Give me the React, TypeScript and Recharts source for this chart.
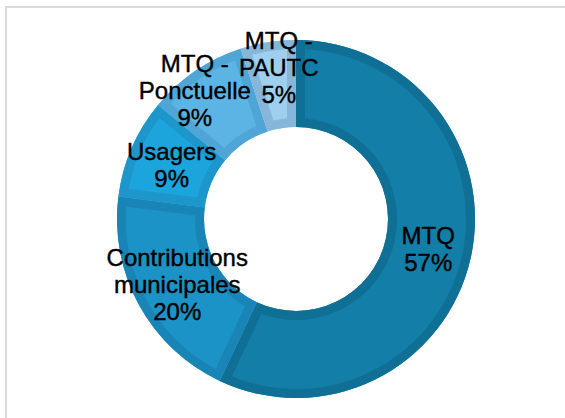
import React from "react";
import { PieChart, Pie, Cell, Sector } from "recharts";

const categories = ["MTQ", "Contributions municipales", "Usagers", "MTQ - Ponctuelle", "MTQ - PAUTC"];
const shares = [57, 20, 9, 9, 5];

const fillColors = ["#137ea7", "#1c93c7", "#1ba5dc", "#5cb4e4", "#9fcfef"];
const bandColors = ["#0f6f94", "#1985b7", "#1c96cb", "#4fa5d6", "#86b7da"];

const labelNudge: Record<string, [number, number]> = {
  "MTQ - Ponctuelle": [-25, -16],
  "MTQ - PAUTC": [4, -18],
};

const data = categories.map((name, i) => ({ name, value: shares[i] }));

const RAD = Math.PI / 180;
const FONT = "'Liberation Sans', Arial, sans-serif";
const LINE_H = 27;

function wrap(name: string): string[] {
  if (name.includes(" - ")) {
    const [a, b] = name.split(" - ");
    return [a + " -", b];
  }
  return name.split(" ");
}

const BevelSector = (props: any) => {
  const { cx, cy, innerRadius, outerRadius, startAngle, endAngle, fill } = props;
  const name = props.name ?? props.payload?.name ?? "x";
  const idx = categories.indexOf(name);
  const id = "clip-" + String(name).replace(/[^a-zA-Z0-9]/g, "");
  const geom = { cx, cy, innerRadius, outerRadius, startAngle, endAngle };
  return (
    <g>
      <defs>
        <clipPath id={id}>
          <Sector {...geom} />
        </clipPath>
      </defs>
      <Sector {...geom} fill={fill} stroke="none" />
      <Sector
        {...geom}
        fill="none"
        stroke={bandColors[idx] ?? fill}
        strokeWidth={18}
        clipPath={`url(#${id})`}
      />
    </g>
  );
};

const renderLabel = (props: any) => {
  const { cx, cy, midAngle, innerRadius, outerRadius, name, percent } = props;
  const r = (innerRadius + outerRadius) / 2;
  const nudge = labelNudge[name] ?? [0, 0];
  const x = cx + r * Math.cos(-midAngle * RAD) + nudge[0];
  const yc = cy + r * Math.sin(-midAngle * RAD) + nudge[1];
  const lines = [...wrap(name), `${Math.round(percent * 100)}%`];
  const n = lines.length;
  const firstBase = yc - ((n - 1) * LINE_H + 17) / 2 + 17;
  return (
    <text
      x={x}
      y={firstBase}
      textAnchor="middle"
      fill="#000"
      stroke="#000"
      strokeWidth={0.4}
      fontFamily={FONT}
      fontSize={24}
    >
      {lines.map((l, i) => (
        <tspan key={i} x={x} y={firstBase + i * LINE_H}>
          {l}
        </tspan>
      ))}
    </text>
  );
};

export default function App() {
  return (
    <div
      style={{
        position: "absolute",
        left: 0,
        top: 0,
        width: 565,
        height: 418,
        overflow: "hidden",
        background: "#fff",
      }}
    >
      <div
        style={{
          position: "absolute",
          left: 5,
          top: 6,
          width: 700,
          height: 600,
          border: "2px solid #d9d9d9",
          boxSizing: "border-box",
        }}
      />
      <div style={{ position: "absolute", left: 0, top: 0 }}>
        <PieChart width={565} height={418}>
          <Pie
            data={data}
            dataKey="value"
            nameKey="name"
            cx={291}
            cy={214}
            innerRadius={92}
            outerRadius={179}
            startAngle={90}
            endAngle={-270}
            stroke="none"
            isAnimationActive={false}
            shape={BevelSector}
            label={renderLabel}
            labelLine={false}
          >
            {data.map((d, i) => (
              <Cell key={d.name} fill={fillColors[i]} />
            ))}
          </Pie>
        </PieChart>
      </div>
    </div>
  );
}
